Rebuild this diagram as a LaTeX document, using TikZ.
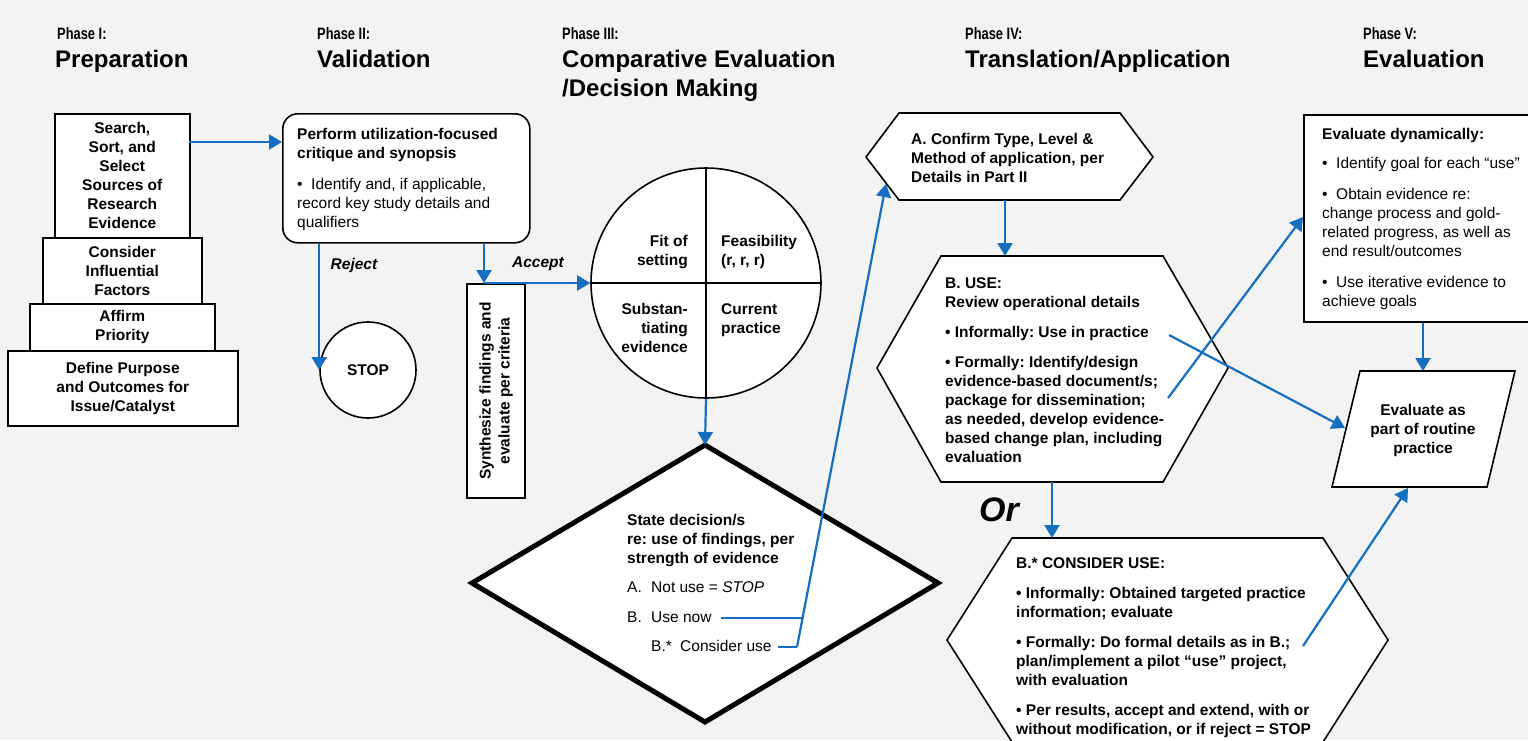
\documentclass[tikz,border=0pt]{standalone}
\usepackage{fontspec}
\setmainfont{Liberation Sans}
\usepackage{graphicx}
\usetikzlibrary{arrows.meta}
\definecolor{bgc}{RGB}{243,243,243}
\definecolor{lnc}{RGB}{22,110,192}
\frenchspacing
\begin{document}
\begin{tikzpicture}[x=1pt,y=-1pt,
  shp/.style={draw=black, line width=1.6pt, fill=white},
  bt/.style={font=\fontsize{15.5}{19}\selectfont\bfseries, inner sep=0pt},
  rt/.style={font=\fontsize{15.5}{19}\selectfont, inner sep=0pt},
  conn/.style={draw=lnc, line width=2.2pt},
  arr/.style={conn, -{Triangle[length=13pt,width=15pt]}},
  hda/.style={font=\fontsize{16.5}{18}\selectfont\bfseries, inner sep=0pt, anchor=base west},
  hdb/.style={font=\fontsize{24}{29}\selectfont\bfseries, inner sep=0pt, align=left},
  lbl/.style={font=\fontsize{15.5}{19}\selectfont\bfseries\itshape, inner sep=0pt}
]
\fill[bgc] (0,0) rectangle (1528,740);
\useasboundingbox (0,0) rectangle (1528,740);

% headers
\node[hda] (h1a) at (57,39) {\scalebox{0.78}[1]{Phase I:}};
\node[hdb, anchor=base west] (h1b) at (55,67) {Preparation};
\node[hda] (h2a) at (317,39) {\scalebox{0.78}[1]{Phase II:}};
\node[hdb, anchor=base west] (h2b) at (317,67) {Validation};
\node[hda] (h3a) at (562,39) {\scalebox{0.78}[1]{Phase III:}};
\node[hdb, anchor=north west] (h3b) at (562,49.5) {Comparative Evaluation\\/Decision Making};
\node[hda] (h4a) at (965,39) {\scalebox{0.78}[1]{Phase IV:}};
\node[hdb, anchor=base west] (h4b) at (965,67) {Translation/Application};
\node[hda] (h5a) at (1363,39) {\scalebox{0.78}[1]{Phase V:}};
\node[hdb, anchor=base west] (h5b) at (1363,67) {Evaluation};

% Phase I
\node[shp, bt, align=center, inner sep=2pt, minimum width=135, minimum height=124, anchor=north west] (s1) at (54,113) {Search,\\Sort, and\\Select\\Sources of\\Research\\Evidence};
\node[shp, bt, align=center, inner sep=2pt, minimum width=159, minimum height=66, anchor=north west] (s2) at (42,237) {Consider\\Influential\\Factors};
\node[shp, bt, align=center, inner sep=2pt, minimum width=185, minimum height=47, anchor=north west] (s3) at (29,303) {Affirm\\Priority};
\node[shp, bt, align=center, inner sep=2pt, minimum width=230, minimum height=75, anchor=north west] (s4) at (7,350) {Define Purpose\\and Outcomes for\\Issue/Catalyst};

% Phase II
\node[shp, rounded corners=15pt, minimum width=247, minimum height=129, anchor=north west] (val) at (282,113) {};
\node[rt, anchor=north west, align=left] (valt) at (297,128) {\textbf{Perform utilization-focused}\\\textbf{critique and synopsis}\\[12pt]•\ \ Identify and, if applicable,\\record key study details and\\qualifiers};
\node[shp, circle, bt, minimum size=96] (stop) at (368,370) {STOP};
\node[lbl] (rej) at (354,265) {Reject};

% Phase III
\node[shp, minimum width=58, minimum height=214, anchor=north west] (syn) at (466,283) {};
\node[bt, rotate=90, align=center] (synt) at (496,391) {Synthesize findings and\\evaluate per criteria};
\node[lbl] (acc) at (538,264) {Accept};
\node[shp, circle, minimum size=230] (fc) at (706,283) {};
\draw[line width=1.6pt] (fc.north) -- (fc.south);
\draw[line width=1.6pt] (fc.west) -- (fc.east);
\node[bt, anchor=north east, align=right] (q1) at (688,235) {Fit of\\setting};
\node[bt, anchor=north west, align=left] (q2) at (721,235) {Feasibility\\(r, r, r)};
\node[bt, anchor=north east, align=right] (q3) at (688,303) {Substan-\\tiating\\evidence};
\node[bt, anchor=north west, align=left] (q4) at (721,303) {Current\\practice};

\coordinate (dtop) at (705,445);
\coordinate (dright) at (938,583);
\coordinate (dbot) at (705,722);
\coordinate (dleft) at (472,583);
\draw[fill=white, line width=5pt, line join=miter] (dtop) -- (dright) -- (dbot) -- (dleft) -- cycle;
\node[rt, anchor=north west, align=left] (dect) at (627,514) {\textbf{State decision/s}\\\textbf{re: use of findings, per}\\\textbf{strength of evidence}\\[10pt]\makebox[24pt][l]{A.}Not use = \textit{STOP}\\[11pt]\makebox[24pt][l]{B.}Use now\\[10pt]\hspace*{24pt}\makebox[29pt][l]{B.*}Consider use};

% Phase IV
\coordinate (al) at (866,157); \coordinate (atl) at (899,113); \coordinate (atr) at (1120,113);
\coordinate (ar) at (1153,157); \coordinate (abr) at (1120,200); \coordinate (abl) at (899,200);
\draw[shp] (al) -- (atl) -- (atr) -- (ar) -- (abr) -- (abl) -- cycle;
\node[bt, anchor=north west, align=left] (hat) at (911,133) {A. Confirm Type, Level \&\\Method of application, per\\Details in Part II};

\coordinate (bl) at (877,368); \coordinate (btl) at (941,256); \coordinate (btr) at (1163,256);
\coordinate (br) at (1228,368); \coordinate (bbr) at (1163,482); \coordinate (bbl) at (941,482);
\draw[shp] (bl) -- (btl) -- (btr) -- (br) -- (bbr) -- (bbl) -- cycle;
\node[bt, anchor=north west, align=left] (hbt) at (945,277) {B. USE:\\Review operational details\\[11pt]•\ Informally: Use in practice\\[11pt]•\ Formally: Identify/design\\evidence-based document/s;\\package for dissemination;\\as needed, develop evidence-\\based change plan, including\\evaluation};

\node[font=\fontsize{34}{38}\selectfont\bfseries\itshape, inner sep=0pt] (or) at (999,510) {Or};

\coordinate (cl) at (947,640); \coordinate (ctl) at (1012,538); \coordinate (ctr) at (1323,538);
\coordinate (cr) at (1388,640); \coordinate (cbr) at (1323,742); \coordinate (cbl) at (1012,742);
\draw[shp] (cl) -- (ctl) -- (ctr) -- (cr) -- (cbr) -- (cbl) -- cycle;
\node[bt, anchor=north west, align=left] (hct) at (1016,557) {B.* CONSIDER USE:\\[11pt]•\ Informally: Obtained targeted practice\\information; evaluate\\[11pt]•\ Formally: Do formal details as in B.;\\plan/implement a pilot “use” project,\\with evaluation\\[11pt]•\ Per results, accept and extend, with or\\without modification, or if reject = STOP};

% Phase V
\node[shp, minimum width=232, minimum height=207, anchor=north west] (ed) at (1303,114) {};
\node[rt, anchor=north west, align=left] (edt) at (1322,128) {\textbf{Evaluate dynamically:}\\[10pt]•\ \ Identify goal for each “use”\\[12pt]•\ \ Obtain evidence re:\\change process and gold-\\related progress, as well as\\end result/outcomes\\[12pt]•\ \ Use iterative evidence to\\achieve goals};

\coordinate (ptl) at (1360,371); \coordinate (ptr) at (1515,371);
\coordinate (pbr) at (1487,487); \coordinate (pbl) at (1332,487);
\draw[shp] (ptl) -- (ptr) -- (pbr) -- (pbl) -- cycle;
\node[bt, align=center] (part) at (1423,430) {Evaluate as\\part of routine\\practice};

% connectors
\coordinate (s1o) at (189,142);
\coordinate (vin) at (282,142);
\draw[arr] (s1o) -- (vin);
\draw[arr] (val.south -| stop.west) -- (stop.west);
\coordinate (accp) at (484,283);
\draw[arr] (val.south -| accp) -- (accp);
\draw[arr] (accp) -- (fc.west);
\draw[arr] (fc.south) -- (dtop);
\coordinate (un) at (721,618);
\coordinate (j0) at (802,618);
\coordinate (cu) at (778,647);
\coordinate (j1) at (797,647);
\coordinate (ain) at (886,184);
\draw[conn] (un) -- (j0);
\draw[conn] (cu) -- (j1);
\draw[arr] (j1) -- (ain);
\coordinate (ab) at (1005,200);
\coordinate (bt) at (1005,256);
\draw[arr] (ab) -- (bt);
\coordinate (bb) at (1052,482);
\coordinate (ct) at (1052,538);
\draw[arr] (bb) -- (ct);
\coordinate (bi) at (1169,335);
\coordinate (pl) at (1345,428);
\draw[arr] (bi) -- (pl);
\coordinate (bf) at (1168,398);
\coordinate (edl) at (1303,217);
\draw[arr] (bf) -- (edl);
\coordinate (bs) at (1303,646);
\coordinate (pb) at (1408,488);
\draw[arr] (bs) -- (pb);
\coordinate (ptop) at (1423,371);
\draw[arr] (ed.south -| ptop) -- (ptop);
\end{tikzpicture}
\end{document}
